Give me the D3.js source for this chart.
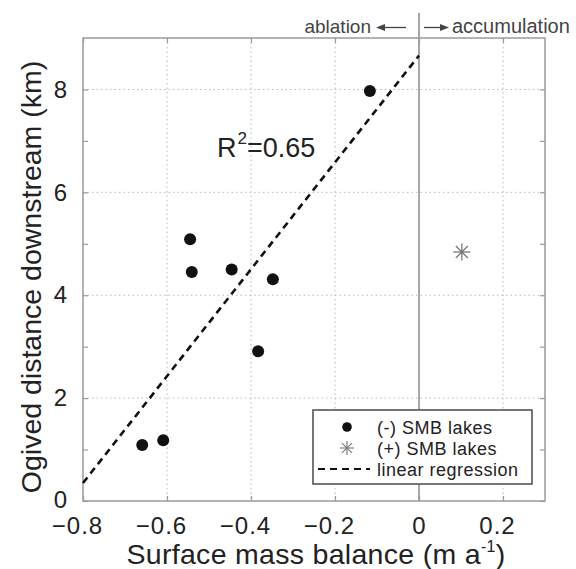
<!DOCTYPE html>
<html>
<head>
<meta charset="utf-8">
<script src="https://cdn.jsdelivr.net/npm/d3@7"></script>
<style>
  html, body { margin: 0; padding: 0; background: #fff; }
  svg { display: block; }
  text { font-family: "Liberation Sans", Arial, Helvetica, sans-serif; }
</style>
</head>
<body>
<svg id="chart" width="576" height="569"></svg>
<script>
// ---- data ----
const negSMB  = [-0.545, -0.541, -0.446, -0.348, -0.383, -0.659, -0.609, -0.117];
const negDist = [5.09, 4.45, 4.50, 4.31, 2.91, 1.09, 1.18, 7.97];
const posSMB  = [0.102];
const posDist = [4.84];
const regX = [-0.8, 0];
const regY = [0.35, 8.66];
const xTicks = [-0.8, -0.6, -0.4, -0.2, 0, 0.2];
const xGrid = [-0.6, -0.4, -0.2, 0.2];
const yTicks = [0, 1, 2, 3, 4, 5, 6, 7, 8];
const yLabelTicks = [0, 2, 4, 6, 8];
const yGrid = [2, 4, 6, 8];
const legendLabels = ["(-) SMB lakes", "(+) SMB lakes", "linear regression"];

// ---- layout ----
const L = 83, R = 545, T = 38, B = 501;
const x = d3.scaleLinear().domain([-0.8, 0.3]).range([L, R]);
const y = d3.scaleLinear().domain([0, 9]).range([B, T]);
const svg = d3.select("#chart");
const axisCol = "#9a9a9a";

// grid
svg.append("g").selectAll("line").data(yGrid).join("line")
  .attr("x1", L).attr("x2", R).attr("y1", d => y(d)).attr("y2", d => y(d))
  .attr("stroke", "#b8b8b8").attr("stroke-width", 1).attr("stroke-dasharray", "1.5,3");
svg.append("g").selectAll("line").data(xGrid).join("line")
  .attr("y1", T).attr("y2", B).attr("x1", d => x(d)).attr("x2", d => x(d))
  .attr("stroke", "#b8b8b8").attr("stroke-width", 1).attr("stroke-dasharray", "1.5,3");

// zero line (ablation / accumulation divide)
svg.append("line").attr("x1", x(0)).attr("x2", x(0)).attr("y1", 13).attr("y2", B)
  .attr("stroke", "#8a8a8a").attr("stroke-width", 1.5);

// axes (ticks inward)
function styleAxis(g) {
  g.select(".domain").remove();
  g.selectAll(".tick line").attr("stroke", axisCol).attr("stroke-width", 1.2);
  g.selectAll(".tick text").attr("fill", "#222");
}
const fmtX = d => d === 0 ? "0" : (d < 0 ? "\u2212" + Math.abs(d).toFixed(1) : d.toFixed(1));
svg.append("g").attr("transform", `translate(0,${B})`)
  .call(d3.axisBottom(x).tickValues(xTicks).tickSize(-5).tickPadding(19).tickFormat(fmtX))
  .call(styleAxis)
  .call(g => g.selectAll(".tick text").attr("font-size", 24).attr("letter-spacing", 1)
      .attr("dy", "0.58em")
      .attr("dx", d => d === 0 ? 0 : -6));
svg.append("g").attr("transform", `translate(0,${T})`)
  .call(d3.axisTop(x).tickValues(xTicks).tickSize(-5).tickFormat(""))
  .call(styleAxis);
svg.append("g").attr("transform", `translate(${L},0)`)
  .call(d3.axisLeft(y).tickValues(yTicks).tickSize(-5).tickPadding(16)
    .tickFormat(d => yLabelTicks.includes(d) ? d : ""))
  .call(styleAxis)
  .call(g => g.selectAll(".tick text").attr("font-size", 24).attr("dy", d => d === 0 ? "0.26em" : "0.32em"));
svg.append("g").attr("transform", `translate(${R},0)`)
  .call(d3.axisRight(y).tickValues(yTicks).tickSize(-5).tickFormat(""))
  .call(styleAxis);

// frame
svg.append("rect").attr("x", L).attr("y", T).attr("width", R - L).attr("height", B - T)
  .attr("fill", "none").attr("stroke", axisCol).attr("stroke-width", 1.5);

// regression line
svg.append("path")
  .datum(regX.map((d, i) => [d, regY[i]]))
  .attr("d", d3.line().x(d => x(d[0])).y(d => y(d[1])))
  .attr("stroke", "#111").attr("stroke-width", 2.6).attr("fill", "none")
  .attr("stroke-dasharray", "7,5");

// negative SMB points
svg.append("g").selectAll("circle").data(negSMB.map((d, i) => [d, negDist[i]])).join("circle")
  .attr("cx", d => x(d[0])).attr("cy", d => y(d[1])).attr("r", 6).attr("fill", "#111");

// asterisk marker
function star(g, cx, cy, r, col, w) {
  for (let k = 0; k < 4; k++) {
    const a = k * Math.PI / 4;
    g.append("line")
      .attr("x1", cx - r * Math.cos(a)).attr("y1", cy - r * Math.sin(a))
      .attr("x2", cx + r * Math.cos(a)).attr("y2", cy + r * Math.sin(a))
      .attr("stroke", col).attr("stroke-width", w);
  }
}
posSMB.forEach((d, i) => star(svg, x(d), y(posDist[i]), 8.5, "#777", 1.3));

// R^2 annotation
const r2 = svg.append("text").attr("x", 217).attr("y", 157).attr("font-size", 27).attr("fill", "#222");
r2.append("tspan").text("R");
r2.append("tspan").attr("font-size", 17).attr("dy", -13).attr("dx", 1).text("2");
r2.append("tspan").attr("dy", 13).text("=0.65");

// top annotation
const topCol = "#444";
svg.append("text").attr("x", 371).attr("y", 33).attr("text-anchor", "end")
  .attr("font-size", 19).attr("fill", topCol).text("ablation");
svg.append("text").attr("x", 452).attr("y", 33).attr("text-anchor", "start")
  .attr("font-size", 20).attr("fill", topCol).text("accumulation");
function arrow(x1, x2, yy) {
  const dir = Math.sign(x2 - x1);
  svg.append("line").attr("x1", x1).attr("x2", x2 - dir * 4).attr("y1", yy).attr("y2", yy)
    .attr("stroke", topCol).attr("stroke-width", 1.3);
  svg.append("path")
    .attr("d", `M${x2},${yy} L${x2 - dir * 9},${yy - 3.5} L${x2 - dir * 9},${yy + 3.5} Z`)
    .attr("fill", topCol);
}
arrow(406, 376, 27.5);
arrow(424, 449, 27.5);

// axis labels
const xl = svg.append("text").attr("x", (L + R) / 2 + 2).attr("y", 564).attr("text-anchor", "middle")
  .attr("font-size", 28.5).attr("letter-spacing", 0.3).attr("fill", "#222");
xl.append("tspan").text("Surface mass balance (m a");
xl.append("tspan").attr("font-size", 16).attr("dy", -12).text("-1");
xl.append("tspan").attr("dy", 12).text(")");
svg.append("text").attr("transform", "translate(41,277) rotate(-90)").attr("text-anchor", "middle")
  .attr("font-size", 28.5).attr("fill", "#222").text("Ogived distance downstream (km)");

// legend
const lg = svg.append("g");
lg.append("rect").attr("x", 313).attr("y", 410).attr("width", 219).attr("height", 74)
  .attr("fill", "#fff").attr("stroke", "#555").attr("stroke-width", 1.6);
const rowY = [427, 448, 469];
lg.append("circle").attr("cx", 347).attr("cy", rowY[0]).attr("r", 4.8).attr("fill", "#111");
star(lg, 347, rowY[1], 7, "#777", 1.1);
lg.append("line").attr("x1", 318).attr("x2", 370).attr("y1", rowY[2]).attr("y2", rowY[2])
  .attr("stroke", "#111").attr("stroke-width", 2.2).attr("stroke-dasharray", "7,5");
lg.selectAll("text.lab").data(legendLabels).join("text").attr("class", "lab")
  .attr("x", 377).attr("y", (d, i) => rowY[i] + 6.5)
  .attr("font-size", 18).attr("letter-spacing", 0.5).attr("fill", "#222").text(d => d);
</script>
</body>
</html>
